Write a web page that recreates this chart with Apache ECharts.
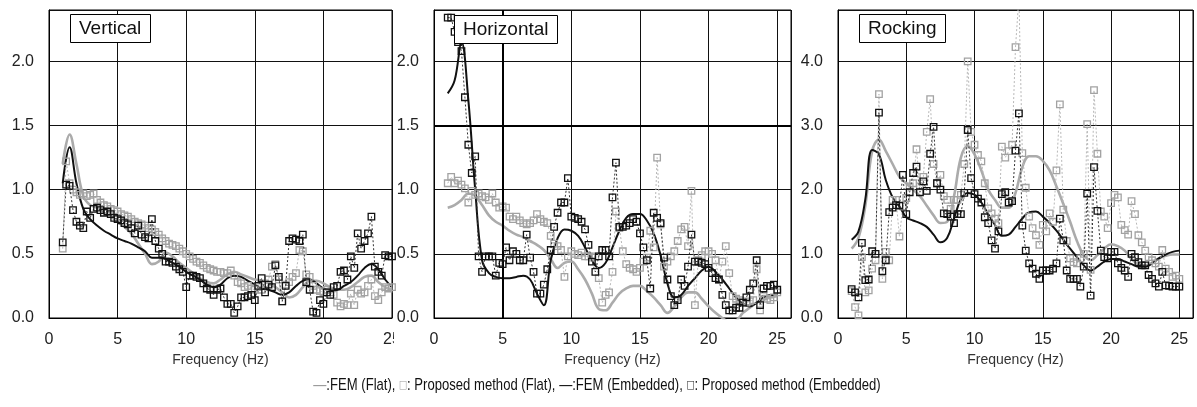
<!DOCTYPE html>
<html><head><meta charset="utf-8">
<script src="https://cdn.jsdelivr.net/npm/echarts/dist/echarts.min.js"></script>
<style>html,body{margin:0;padding:0;background:#fff}#c{width:1197px;height:407px}</style>
</head><body><div id="c"></div><script>
// frequency grid of the "Proposed method" points (Hz)
const freqP = [1,1.25,1.5,1.75, 2,2.25,2.5,2.75, 3,3.25,3.5,3.75, 4,4.25,4.5,4.75, 5,5.25,5.5,5.75,
 6,6.25,6.5,6.75, 7,7.25,7.5,7.75, 8,8.25,8.5,8.75, 9,9.25,9.5,9.75, 10,10.25,10.5,10.75,
 11,11.25,11.5,11.75, 12,12.25,12.5,12.75, 13,13.25,13.5,13.75, 14,14.25,14.5,14.75, 15,15.25,15.5,15.75,
 16,16.25,16.5,16.75, 17,17.25,17.5,17.75, 18,18.25,18.5,18.75, 19,19.25,19.5,19.75, 20,20.25,20.5,20.75,
 21,21.25,21.5,21.75, 22,22.25,22.5,22.75, 23,23.25,23.5,23.75, 24,24.25,24.5,24.75, 25];
// frequency grid of the FEM curves (Hz)
const freqF = [1,1.5, 2,2.5, 3,3.5, 4,4.5, 5,5.5, 6,6.5, 7,7.5, 8,8.5, 9,9.5, 10,10.5, 11,11.5, 12,12.5,
 13,13.5, 14,14.5, 15,15.5, 16,16.5, 17,17.5, 18,18.5, 19,19.5, 20,20.5, 21,21.5, 22,22.5, 23,23.5, 24,24.5, 25];

// ---- Vertical ----
const vFlatFEM = [1.20,1.43, 1.20,0.95, 0.88,0.86, 0.82,0.79, 0.75,0.71, 0.66,0.58, 0.50,0.42, 0.44,0.51,
 0.48,0.43, 0.39,0.35, 0.31,0.28, 0.27,0.30, 0.34,0.36, 0.34,0.32, 0.30,0.29, 0.27,0.24, 0.20,0.16,
 0.18,0.24, 0.29,0.29, 0.27,0.24, 0.22,0.22, 0.24,0.28, 0.32,0.33, 0.28,0.24, 0.22];
const vEmbFEM = [1.05,1.33, 1.05,0.85, 0.77,0.72, 0.68,0.65, 0.62,0.60, 0.58,0.55, 0.52,0.47, 0.47,0.46,
 0.43,0.40, 0.36,0.33, 0.30,0.26, 0.24,0.26, 0.31,0.33, 0.32,0.29, 0.26,0.23, 0.22,0.20, 0.18,0.20,
 0.25,0.29, 0.30,0.27, 0.23,0.22, 0.22,0.25, 0.28,0.33, 0.39,0.42, 0.38,0.30, 0.24];
const vFlatProp = [0.54,1.22,1.05,1.00, 0.98,0.96,0.97,0.95, 0.96,0.97,0.92,0.90, 0.88,0.87,0.85,0.84,
 0.83,0.81,0.80,0.79, 0.77,0.75,0.74,0.73, 0.72,0.70,0.69,0.67, 0.65,0.62,0.60,0.58, 0.57,0.56,0.54,0.52,
 0.50,0.48,0.46,0.44, 0.43,0.41,0.39,0.38, 0.37,0.36,0.36,0.35, 0.35,0.37,0.33,0.28, 0.27,0.24,0.25,0.23,
 0.22,0.24,0.22,0.27, 0.30,0.40,0.42,0.30, 0.13,0.26,0.28,0.32, 0.35,0.53,0.52,0.34, 0.32,0.25,0.22,0.21,
 0.20,0.22,0.20,0.18, 0.12,0.09,0.11,0.10, 0.19,0.10,0.22,0.19, 0.20,0.25,0.30,0.17, 0.14,0.20,0.24,0.23, 0.24];
const vEmbProp = [0.59,1.04,1.03,0.84, 0.75,0.72,0.70,0.83, 0.78,0.85,0.86,0.84, 0.82,0.83,0.81,0.78,
 0.77,0.76,0.74,0.73, 0.70,0.66,0.72,0.65, 0.63,0.62,0.77,0.60, 0.54,0.50,0.44,0.44, 0.43,0.40,0.38,0.36,
 0.24,0.33,0.33,0.32, 0.31,0.27,0.23,0.22, 0.18,0.22,0.23,0.16, 0.11,0.11,0.04,0.09, 0.16,0.16,0.17,0.18,
 0.14,0.25,0.31,0.20, 0.26,0.24,0.41,0.32, 0.13,0.25,0.60,0.62, 0.61,0.60,0.65,0.28, 0.22,0.05,0.04,0.14,
 0.11,0.20,0.18,0.24, 0.25,0.36,0.37,0.30, 0.48,0.39,0.66,0.54, 0.60,0.66,0.79,0.40, 0.36,0.33,0.49,0.48, 0.48];

// ---- Horizontal ----
const hFlatFEM = [0.86,0.88, 0.92,0.97, 0.95,0.88, 0.80,0.75, 0.72,0.68, 0.65,0.63, 0.60,0.57, 0.53,0.46,
 0.39,0.43, 0.44,0.38, 0.30,0.19, 0.07,0.06, 0.12,0.19, 0.23,0.25, 0.25,0.21, 0.16,0.10, 0.04,0.09,
 0.16,0.20, 0.20,0.15, 0.09,0.04, 0.00,-0.03, -0.02,0.04, 0.08,0.12, 0.14,0.16, 0.17];
const hEmbFEM = [1.75,1.85, 2.15,1.70, 1.00,0.45, 0.35,0.32, 0.31,0.31, 0.32,0.33, 0.30,0.19, 0.10,0.45,
 0.62,0.69, 0.68,0.64, 0.55,0.45, 0.39,0.43, 0.55,0.68, 0.78,0.81, 0.81,0.76, 0.66,0.49, 0.27,0.16,
 0.18,0.25, 0.31,0.37, 0.40,0.36, 0.30,0.23, 0.16,0.11, 0.09,0.12, 0.16,0.18, 0.18];
const hFlatProp = [1.05,1.10,1.05,1.07, 1.04,1.01,0.90,0.99, 0.96,0.97,0.95,0.94, 0.92,0.97,0.90,0.86,
 0.87,0.86,0.79,0.77, 0.79,0.76,0.74,0.73, 0.74,0.76,0.81,0.77, 0.75,0.74,0.64,0.58, 0.56,0.53,0.32,0.48,
 0.52,0.50,0.49,0.51, 0.48,0.48,0.47,0.48, 0.31,0.12,0.18,0.20, 0.36,0.83,0.70,0.52, 0.42,0.39,0.38,0.36,
 0.39,0.44,0.47,0.68, 0.55,1.25,0.73,0.40, 0.44,0.48,0.52,0.60, 0.69,0.71,0.56,0.99, 0.10,0.45,0.49,0.52,
 0.52,0.50,0.45,0.30, 0.44,0.56,0.35,0.17, 0.15,0.14,0.13,0.12, 0.13,0.14,0.38,0.06, 0.17,0.15,0.14,0.16, 0.20];
const hEmbProp = [2.34,2.34,2.23,2.15, 2.08,1.72,1.35,1.13, 1.26,0.48,0.36,0.48, 0.48,0.48,0.33,0.43,
 0.42,0.55,0.45,0.52, 0.50,0.45,0.45,0.65, 0.47,0.36,0.19,0.19, 0.26,0.38,0.53,0.71, 0.82,0.90,0.90,1.09,
 0.79,0.78,0.77,0.75, 0.69,0.57,0.44,0.36, 0.48,0.53,0.53,0.48, 0.94,1.21,0.71,0.71, 0.72,0.74,0.77,0.75,
 0.66,0.55,0.45,0.23, 0.82,0.78,0.74,0.47, 0.30,0.17,0.10,0.14, 0.30,0.25,0.40,0.65, 0.44,0.44,0.43,0.42,
 0.39,0.35,0.31,0.30, 0.18,0.10,0.06,0.06, 0.08,0.08,0.12,0.16, 0.22,0.27,0.45,0.10, 0.23,0.25,0.25,0.26, 0.22];

// ---- Rocking ----
const rFlatFEM = [1.08,1.25, 1.75,2.60, 2.78,2.60, 2.40,2.20, 2.10,2.00, 1.90,1.75, 1.60,1.48, 1.50,1.90,
 2.50,2.68, 2.55,2.30, 2.00,1.84, 1.72,1.72, 1.95,2.35, 2.52,2.52, 2.45,2.30, 2.05,1.78, 1.50,1.20,
 0.98,0.90, 0.98,1.08, 1.15,1.12, 1.05,0.92, 0.84,0.82, 0.86,0.93, 0.97,0.99, 0.99];
const rEmbFEM = [1.22,1.35, 1.85,2.62, 2.55,2.15, 1.88,1.74, 1.57,1.52, 1.48,1.42, 1.30,1.18, 1.25,1.55,
 1.85,1.95, 1.92,1.80, 1.62,1.45, 1.28,1.30, 1.42,1.55, 1.65,1.66, 1.58,1.48, 1.36,1.22, 1.08,0.95,
 0.82,0.74, 0.80,0.88, 0.92,0.92, 0.88,0.84, 0.80,0.80, 0.85,0.93, 0.99,1.03, 1.05];
const rFlatProp = [0.42,0.17,0.04,0.95, 0.40,0.43,0.77,0.90, 3.49,0.61,1.03,0.90, 1.84,1.84,1.27,1.74,
 1.87,2.05,2.10,2.63, 2.05,2.20,2.90,3.41, 2.40,2.10,2.23,1.90, 1.84,1.70,1.84,1.84, 1.92,2.40,4.00,2.90,
 2.70,2.54,2.44,2.10, 1.71,1.63,1.55,1.48, 2.67,2.50,2.60,2.70, 4.22,5.00,2.57,2.03, 1.58,1.40,1.29,1.14,
 1.45,1.35,1.63,1.50, 2.30,3.33,1.69,1.20, 0.93,0.87,0.85,0.93, 1.00,3.02,0.75,3.55, 2.56,1.66,1.58,1.40,
 1.79,1.92,1.88,1.45, 1.37,1.30,1.82,1.62, 1.29,1.18,1.05,0.95, 0.90,0.85,0.80,1.06, 0.77,0.72,0.64,0.66, 0.61];
const rEmbProp = [0.45,0.40,0.32,1.17, 0.59,0.60,1.04,1.00, 3.20,0.73,0.90,1.65, 1.72,1.76,1.75,2.23,
 1.62,1.96,2.26,2.36, 1.96,2.13,1.98,2.56, 2.98,2.10,2.00,1.63, 1.62,1.58,1.48,1.62, 1.62,1.95,2.93,2.18,
 1.93,1.86,1.80,1.57, 1.48,1.21,1.08,1.35, 1.93,1.96,1.80,1.82, 2.61,3.19,1.44,1.05, 0.85,0.77,0.69,0.61,
 0.74,0.74,0.74,0.77, 0.85,1.55,1.21,0.74, 0.61,0.61,0.61,0.49, 0.80,1.94,0.35,2.35, 1.67,1.05,0.95,0.93,
 1.03,1.03,0.85,0.78, 0.74,0.64,1.00,0.95, 0.87,0.82,0.82,0.67, 0.61,0.54,0.49,0.72, 0.51,0.50,0.49,0.49, 0.49];

const panelTitles = ['Vertical', 'Horizontal', 'Rocking'];
const xName = 'Frequency (Hz)';
const xMax = [25, 26, 26];
const yMax = [2.4, 2.4, 4.8];
const yStep = [0.5, 0.5, 1];
const legendText = '{g|—}:FEM (Flat), {gs|□}: Proposed method (Flat), {k|—}:FEM (Embedded), {ks|□}: Proposed method (Embedded)';

const FONT = 'Liberation Sans, Arial, sans-serif';
const GRAY_LINE = '#ababab', GRAY_SQ = '#a2a2a2', BLACK = '#111';

const grids = [
  {left: 49, top: 10, width: 343, height: 308},
  {left: 434, top: 10, width: 357, height: 308},
  {left: 838, top: 10, width: 355, height: 308}
].map(g => Object.assign(g, {show: true, borderColor: '#000', borderWidth: 1, backgroundColor: 'transparent'}));

const xAxes = grids.map((g, i) => ({
  type: 'value', gridIndex: i, min: 0, max: xMax[i], interval: 5,
  axisLine: {show: true, lineStyle: {color: '#000', width: 1}},
  axisTick: {show: false},
  axisLabel: {fontSize: 16, color: '#222', margin: 14, fontFamily: FONT, showMaxLabel: i === 0, showMinLabel: true},
  splitLine: {show: true, lineStyle: {color: '#111', width: 1}},
  name: xName, nameLocation: 'middle', nameGap: 35,
  nameTextStyle: {fontSize: 14, color: '#333', fontFamily: FONT}
}));
const yAxes = grids.map((g, i) => ({
  type: 'value', gridIndex: i, min: 0, max: yMax[i], interval: yStep[i],
  axisLine: {show: true, lineStyle: {color: '#000', width: 1}},
  axisTick: {show: false},
  axisLabel: {fontSize: 16, color: '#222', margin: 15, fontFamily: FONT, showMaxLabel: false,
    formatter: v => v.toFixed(1)},
  splitLine: {show: true, lineStyle: {color: '#111', width: 1}}
}));

function femSeries(gi, name, vals, color, width) {
  return {type: 'line', name, xAxisIndex: gi, yAxisIndex: gi, symbol: 'none', smooth: 0.4,
    data: freqF.map((f, k) => [f, vals[k]]), lineStyle: {color, width}, z: 3};
}
function propSeries(gi, name, vals, color, lineColor, z) {
  return {type: 'line', name, xAxisIndex: gi, yAxisIndex: gi, symbol: 'rect', symbolSize: 6.5, showAllSymbol: true,
    data: freqP.map((f, k) => [f, vals[k]]),
    itemStyle: {color: 'rgba(255,255,255,0)', borderColor: color, borderWidth: 1.3},
    lineStyle: {color: lineColor, width: 1, type: [2, 2]}, z};
}

const panels = [
  [vFlatFEM, vFlatProp, vEmbFEM, vEmbProp],
  [hFlatFEM, hFlatProp, hEmbFEM, hEmbProp],
  [rFlatFEM, rFlatProp, rEmbFEM, rEmbProp]
];
const series = [];
panels.forEach((p, i) => {
  series.push(femSeries(i, 'FEM (Flat)', p[0], GRAY_LINE, 2.6));
  series.push(propSeries(i, 'Proposed method (Flat)', p[1], GRAY_SQ, '#b8b8b8', 4));
  series.push(femSeries(i, 'FEM (Embedded)', p[2], BLACK, 2));
  series.push(propSeries(i, 'Proposed method (Embedded)', p[3], BLACK, '#333', 5));
});
// thicker reference lines in the Horizontal panel
series[5].markLine = {silent: true, symbol: 'none', label: {show: false},
  lineStyle: {color: '#000', width: 2, type: 'solid'}, data: [{yAxis: 1.5}, {xAxis: 5}]};

const boxPos = [[70, 14], [454, 15], [859, 14]];
const titles = panelTitles.map((t, i) => ({
  text: t, left: boxPos[i][0], top: boxPos[i][1], padding: [5, 9],
  borderWidth: 1, borderColor: '#000', backgroundColor: '#fff', z: 10,
  textStyle: {fontSize: 19, fontWeight: 'normal', color: '#111', fontFamily: FONT}
}));

const chart = echarts.init(document.getElementById('c'), null, {renderer: 'canvas'});
chart.setOption({
  animation: false,
  backgroundColor: '#fff',
  title: titles,
  grid: grids,
  xAxis: xAxes,
  yAxis: yAxes,
  series,
  graphic: [
    {type: 'rect', left: 394, top: 327, shape: {width: 32, height: 26}, style: {fill: '#fff'}, z: 100},
    {type: 'group', x: 597, y: 385, scaleX: 0.77, z: 100, children: [{
      type: 'text', x: 0, y: 0,
      style: {text: legendText, align: 'center', verticalAlign: 'middle',
        fontSize: 17, fontFamily: FONT, fill: '#111',
        rich: {
          g: {fill: '#9a9a9a', fontSize: 17, fontFamily: FONT},
          gs: {fill: '#9a9a9a', fontSize: 11, fontFamily: 'DejaVu Sans'},
          k: {fill: '#111', fontSize: 17, fontFamily: FONT},
          ks: {fill: '#111', fontSize: 11, fontFamily: 'DejaVu Sans'}
        }}
    }]}
  ]
});
</script></body></html>
